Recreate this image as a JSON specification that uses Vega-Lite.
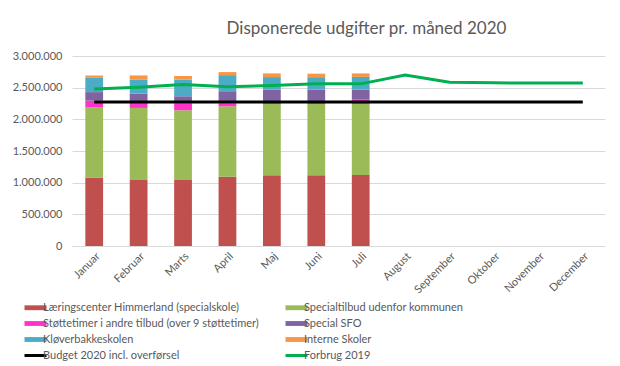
{
  "$schema": "https://vega.github.io/schema/vega-lite/v6.json",
  "autosize": "none",
  "width": 533,
  "height": 190,
  "padding": {"left": 72, "top": 56, "right": 15, "bottom": 120},
  "background": "white",
  "title": {
    "text": "Disponerede  udgifter pr. måned 2020",
    "anchor": "middle",
    "dx": 28,
    "offset": 12,
    "fontSize": 17,
    "font": "Lato",
    "fontWeight": "normal",
    "color": "#595959"
  },
  "config": {
    "font": "Lato",
    "view": {"stroke": null},
    "axis": {"labelColor": "#595959", "labelFontSize": 11, "labelFont": "Lato", "ticks": false, "titleColor": "#595959"}
  },
  "datasets": {
    "bars": [
      {"maaned": "Januar", "serie": "Læringscenter Himmerland (specialskole)", "beloeb": 1080000, "o": 1},
      {"maaned": "Januar", "serie": "Specialtilbud udenfor kommunen", "beloeb": 1110000, "o": 2},
      {"maaned": "Januar", "serie": "Støttetimer i andre tilbud (over 9 støttetimer)", "beloeb": 105000, "o": 3},
      {"maaned": "Januar", "serie": "Special SFO", "beloeb": 135000, "o": 4},
      {"maaned": "Januar", "serie": "Kløverbakkeskolen", "beloeb": 225000, "o": 5},
      {"maaned": "Januar", "serie": "Interne Skoler", "beloeb": 37000, "o": 6},
      {"maaned": "Februar", "serie": "Læringscenter Himmerland (specialskole)", "beloeb": 1042000, "o": 1},
      {"maaned": "Februar", "serie": "Specialtilbud udenfor kommunen", "beloeb": 1138000, "o": 2},
      {"maaned": "Februar", "serie": "Støttetimer i andre tilbud (over 9 støttetimer)", "beloeb": 80000, "o": 3},
      {"maaned": "Februar", "serie": "Special SFO", "beloeb": 147000, "o": 4},
      {"maaned": "Februar", "serie": "Kløverbakkeskolen", "beloeb": 223000, "o": 5},
      {"maaned": "Februar", "serie": "Interne Skoler", "beloeb": 63000, "o": 6},
      {"maaned": "Marts", "serie": "Læringscenter Himmerland (specialskole)", "beloeb": 1042000, "o": 1},
      {"maaned": "Marts", "serie": "Specialtilbud udenfor kommunen", "beloeb": 1101000, "o": 2},
      {"maaned": "Marts", "serie": "Støttetimer i andre tilbud (over 9 støttetimer)", "beloeb": 106000, "o": 3},
      {"maaned": "Marts", "serie": "Special SFO", "beloeb": 116000, "o": 4},
      {"maaned": "Marts", "serie": "Kløverbakkeskolen", "beloeb": 265000, "o": 5},
      {"maaned": "Marts", "serie": "Interne Skoler", "beloeb": 53000, "o": 6},
      {"maaned": "April", "serie": "Læringscenter Himmerland (specialskole)", "beloeb": 1095000, "o": 1},
      {"maaned": "April", "serie": "Specialtilbud udenfor kommunen", "beloeb": 1111000, "o": 2},
      {"maaned": "April", "serie": "Støttetimer i andre tilbud (over 9 støttetimer)", "beloeb": 43000, "o": 3},
      {"maaned": "April", "serie": "Special SFO", "beloeb": 195000, "o": 4},
      {"maaned": "April", "serie": "Kløverbakkeskolen", "beloeb": 254000, "o": 5},
      {"maaned": "April", "serie": "Interne Skoler", "beloeb": 48000, "o": 6},
      {"maaned": "Maj", "serie": "Læringscenter Himmerland (specialskole)", "beloeb": 1116000, "o": 1},
      {"maaned": "Maj", "serie": "Specialtilbud udenfor kommunen", "beloeb": 1127000, "o": 2},
      {"maaned": "Maj", "serie": "Støttetimer i andre tilbud (over 9 støttetimer)", "beloeb": 43000, "o": 3},
      {"maaned": "Maj", "serie": "Special SFO", "beloeb": 185000, "o": 4},
      {"maaned": "Maj", "serie": "Kløverbakkeskolen", "beloeb": 196000, "o": 5},
      {"maaned": "Maj", "serie": "Interne Skoler", "beloeb": 58000, "o": 6},
      {"maaned": "Juni", "serie": "Læringscenter Himmerland (specialskole)", "beloeb": 1116000, "o": 1},
      {"maaned": "Juni", "serie": "Specialtilbud udenfor kommunen", "beloeb": 1127000, "o": 2},
      {"maaned": "Juni", "serie": "Støttetimer i andre tilbud (over 9 støttetimer)", "beloeb": 45000, "o": 3},
      {"maaned": "Juni", "serie": "Special SFO", "beloeb": 180000, "o": 4},
      {"maaned": "Juni", "serie": "Kløverbakkeskolen", "beloeb": 198000, "o": 5},
      {"maaned": "Juni", "serie": "Interne Skoler", "beloeb": 55000, "o": 6},
      {"maaned": "Juli", "serie": "Læringscenter Himmerland (specialskole)", "beloeb": 1120000, "o": 1},
      {"maaned": "Juli", "serie": "Specialtilbud udenfor kommunen", "beloeb": 1123000, "o": 2},
      {"maaned": "Juli", "serie": "Støttetimer i andre tilbud (over 9 støttetimer)", "beloeb": 67000, "o": 3},
      {"maaned": "Juli", "serie": "Special SFO", "beloeb": 160000, "o": 4},
      {"maaned": "Juli", "serie": "Kløverbakkeskolen", "beloeb": 200000, "o": 5},
      {"maaned": "Juli", "serie": "Interne Skoler", "beloeb": 55000, "o": 6}
    ],
    "lines": [
      {"maaned": "Januar", "serie": "Budget 2020 incl. overførsel", "beloeb": 2275000},
      {"maaned": "Februar", "serie": "Budget 2020 incl. overførsel", "beloeb": 2275000},
      {"maaned": "Marts", "serie": "Budget 2020 incl. overførsel", "beloeb": 2275000},
      {"maaned": "April", "serie": "Budget 2020 incl. overførsel", "beloeb": 2275000},
      {"maaned": "Maj", "serie": "Budget 2020 incl. overførsel", "beloeb": 2275000},
      {"maaned": "Juni", "serie": "Budget 2020 incl. overførsel", "beloeb": 2275000},
      {"maaned": "Juli", "serie": "Budget 2020 incl. overførsel", "beloeb": 2275000},
      {"maaned": "August", "serie": "Budget 2020 incl. overførsel", "beloeb": 2275000},
      {"maaned": "September", "serie": "Budget 2020 incl. overførsel", "beloeb": 2275000},
      {"maaned": "Oktober", "serie": "Budget 2020 incl. overførsel", "beloeb": 2275000},
      {"maaned": "November", "serie": "Budget 2020 incl. overførsel", "beloeb": 2275000},
      {"maaned": "December", "serie": "Budget 2020 incl. overførsel", "beloeb": 2275000},
      {"maaned": "Januar", "serie": "Forbrug 2019", "beloeb": 2480000},
      {"maaned": "Februar", "serie": "Forbrug 2019", "beloeb": 2508000},
      {"maaned": "Marts", "serie": "Forbrug 2019", "beloeb": 2550000},
      {"maaned": "April", "serie": "Forbrug 2019", "beloeb": 2513000},
      {"maaned": "Maj", "serie": "Forbrug 2019", "beloeb": 2534000},
      {"maaned": "Juni", "serie": "Forbrug 2019", "beloeb": 2560000},
      {"maaned": "Juli", "serie": "Forbrug 2019", "beloeb": 2560000},
      {"maaned": "August", "serie": "Forbrug 2019", "beloeb": 2698000},
      {"maaned": "September", "serie": "Forbrug 2019", "beloeb": 2587000},
      {"maaned": "Oktober", "serie": "Forbrug 2019", "beloeb": 2577000},
      {"maaned": "November", "serie": "Forbrug 2019", "beloeb": 2572000},
      {"maaned": "December", "serie": "Forbrug 2019", "beloeb": 2572000}
    ]
  },
  "encoding": {
    "x": {
      "field": "maaned",
      "type": "nominal",
      "sort": ["Januar", "Februar", "Marts", "April", "Maj", "Juni", "Juli", "August", "September", "Oktober", "November", "December"],
      "scale": {"domain": ["Januar", "Februar", "Marts", "April", "Maj", "Juni", "Juli", "August", "September", "Oktober", "November", "December"], "paddingInner": 0.6, "paddingOuter": 0.3},
      "axis": {"title": null, "labelAngle": -45, "domainColor": "#D9D9D9", "labelPadding": 4}
    },
    "y": {
      "field": "beloeb",
      "type": "quantitative",
      "scale": {"domain": [0, 3000000], "nice": false},
      "axis": {"title": null, "values": [0, 500000, 1000000, 1500000, 2000000, 2500000, 3000000], "domain": false, "gridColor": "#D9D9D9", "labelPadding": 10,
        "labelExpr": "replace(replace(format(datum.value, ','), ',', '.'), ',', '.')"}
    },
    "color": {
      "field": "serie",
      "type": "nominal",
      "scale": {
        "domain": ["Læringscenter Himmerland (specialskole)", "Specialtilbud udenfor kommunen", "Støttetimer i andre tilbud (over 9 støttetimer)", "Special SFO", "Kløverbakkeskolen", "Interne Skoler", "Budget 2020 incl. overførsel", "Forbrug 2019"],
        "range": ["#C0504D", "#9BBB59", "#FF33CC", "#8064A2", "#4BACC6", "#F79646", "#000000", "#00B050"]
      },
      "legend": {
        "title": null,
        "orient": "none",
        "legendX": -42,
        "legendY": 246,
        "direction": "horizontal",
        "columns": 2,
        "columnPadding": 19,
        "rowPadding": 4,
        "labelFontSize": 11,
        "labelColor": "#595959",
        "labelFont": "Lato",
        "labelLimit": 400,
        "symbolSize": 484,
        "labelOffset": 2,
        "encode": {
          "symbols": {
            "update": {
              "shape": {"signal": "indexof(['Budget 2020 incl. overførsel','Forbrug 2019'], datum.value) >= 0 ? 'M-1,0H1' : 'M-1,-0.22H1V0.22H-1Z'"},
              "fill": {"scale": "color", "field": "value"},
              "stroke": {"scale": "color", "field": "value"},
              "strokeWidth": {"signal": "indexof(['Budget 2020 incl. overførsel','Forbrug 2019'], datum.value) >= 0 ? 3 : 0"},
              "opacity": {"value": 1}
            }
          }
        }
      }
    }
  },
  "layer": [
    {
      "data": {"name": "bars"},
      "mark": {"type": "bar"},
      "encoding": {
        "y": {"field": "beloeb", "type": "quantitative", "stack": "zero"},
        "order": {"field": "o", "type": "quantitative"}
      }
    },
    {
      "data": {"name": "lines"},
      "mark": {"type": "line", "strokeWidth": 3}
    }
  ]
}
